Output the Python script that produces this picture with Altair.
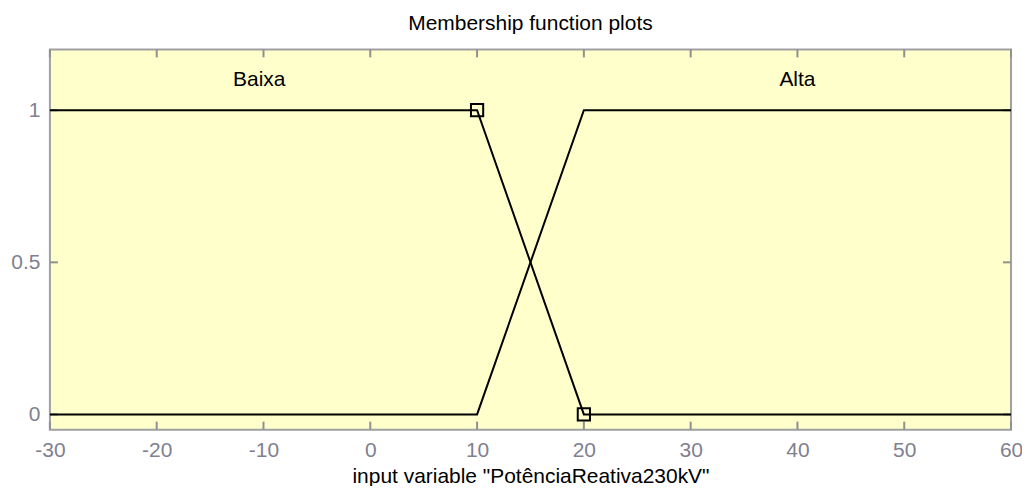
import altair as alt
import pandas as pd

# Membership functions (x, y breakpoints)
baixa_x = [-30, 10, 20, 60]
baixa_y = [1, 1, 0, 0]
alta_x = [-30, 10, 20, 60]
alta_y = [0, 0, 1, 1]

# square markers
marker_x = [10, 20]
marker_y = [1, 0]

# labels
label_text = ["Baixa", "Alta"]
label_x = [-10.4, 40]
label_y = [1.1, 1.1]

x_ticks = [-30, -20, -10, 0, 10, 20, 30, 40, 50, 60]
y_ticks = [0, 0.5, 1]

W, H = 963, 381
FONT = "Liberation Sans"
FS = 21
TICK_COLOR = "#909090"
LABEL_COLOR = "#80808f"

lines_df = pd.DataFrame(
    [{"series": "Baixa", "x": x, "y": y} for x, y in zip(baixa_x, baixa_y)]
    + [{"series": "Alta", "x": x, "y": y} for x, y in zip(alta_x, alta_y)]
)
markers_df = pd.DataFrame({"x": marker_x, "y": marker_y})
labels_df = pd.DataFrame({"text": label_text, "x": label_x, "y": label_y})
xt_df = pd.DataFrame({"x": x_ticks})
yt_df = pd.DataFrame({"y": y_ticks})

xscale = alt.Scale(domain=[-30, 60], nice=False, zero=False)
yscale = alt.Scale(domain=[-0.05, 1.2], nice=False, zero=False)

xaxis = alt.Axis(
    values=x_ticks, ticks=False, domain=False, grid=False,
    labelExpr="datum.value < 0 ? '-' + abs(datum.value) : '' + datum.value",
    labelFont=FONT, labelFontSize=FS, labelColor=LABEL_COLOR, labelPadding=10,
    title='input variable "PotênciaReativa230kV"', titleFont=FONT,
    titleFontSize=FS, titleFontWeight="normal", titleColor="#000000",
    titlePadding=5, labelFlush=False,
)
yaxis = alt.Axis(
    values=y_ticks, ticks=False, domain=False, grid=False, format="~g",
    labelFont=FONT, labelFontSize=FS, labelColor=LABEL_COLOR, labelPadding=10,
    title=None,
)

lines = alt.Chart(lines_df).mark_line(color="#000000", strokeWidth=2).encode(
    x=alt.X("x:Q", scale=xscale, axis=xaxis),
    y=alt.Y("y:Q", scale=yscale, axis=yaxis),
    detail="series:N",
)

markers = alt.Chart(markers_df).mark_point(
    shape="square", filled=False, color="#000000", strokeWidth=2, size=150, opacity=1
).encode(x=alt.X("x:Q", scale=xscale), y=alt.Y("y:Q", scale=yscale))

labels = alt.Chart(labels_df).mark_text(
    font=FONT, fontSize=FS, color="#000000", baseline="middle", align="center"
).encode(x=alt.X("x:Q", scale=xscale), y=alt.Y("y:Q", scale=yscale), text="text:N")

tick_len = 8
bottom_ticks = alt.Chart(xt_df).mark_rule(color=TICK_COLOR, strokeWidth=2).encode(
    x=alt.X("x:Q", scale=xscale), y=alt.value(H), y2=alt.value(H - tick_len)
)
top_ticks = alt.Chart(xt_df).mark_rule(color=TICK_COLOR, strokeWidth=2).encode(
    x=alt.X("x:Q", scale=xscale), y=alt.value(0), y2=alt.value(tick_len)
)
left_ticks = alt.Chart(yt_df).mark_rule(color=TICK_COLOR, strokeWidth=2).encode(
    y=alt.Y("y:Q", scale=yscale), x=alt.value(0), x2=alt.value(tick_len)
)
right_ticks = alt.Chart(yt_df).mark_rule(color=TICK_COLOR, strokeWidth=2).encode(
    y=alt.Y("y:Q", scale=yscale), x=alt.value(W), x2=alt.value(W - tick_len)
)

chart = alt.layer(
    bottom_ticks, top_ticks, left_ticks, right_ticks, lines, markers, labels
).properties(
    width=W,
    height=H,
    background="#ffffff",
    title=alt.TitleParams(
        "Membership function plots", font=FONT, fontSize=FS, fontWeight="normal",
        color="#000000", anchor="middle", offset=14,
    ),
    autosize=alt.AutoSizeParams(type="none"),
    padding={"left": 42, "top": 41, "right": 11, "bottom": 56},
).configure_view(
    fill="#FFFFCC", stroke="#a0a0a0", strokeWidth=2
)

chart.save("out.html", embed_options={"renderer": "svg", "actions": False})
